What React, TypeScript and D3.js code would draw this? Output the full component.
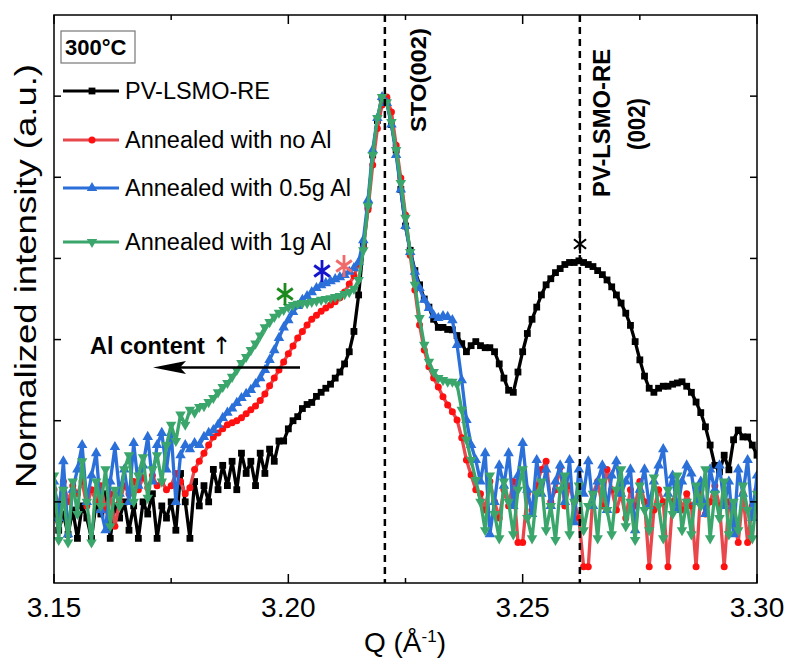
import * as d3 from "d3";
import React from "react";

// Q grid (Å^-1), one sample every 0.001
const qValues = d3.range(151).map((i) => +(3.15 + i * 0.001).toFixed(3));

const pvLsmoRe = [
  -0.01, -0.07, -0.03, -0.08, -0.02, -0.09, -0.01, -0.04, -0.09, 0.0,
  -0.03, 0.02, -0.09, -0.01, -0.04, 0.0, -0.07, -0.01, -0.09, 0.0,
  -0.03, 0.02, -0.09, -0.01, -0.04, 0.0, -0.07, 0.07, 0.0, -0.09,
  0.05, -0.01, 0.04, 0.0, 0.08, 0.03, 0.09, 0.04, 0.1, 0.03,
  0.12, 0.07, 0.1, 0.04, 0.12, 0.07, 0.13, 0.1, 0.15, 0.15,
  0.18, 0.2, 0.21, 0.23, 0.24, 0.245, 0.26, 0.27, 0.28, 0.29,
  0.305, 0.32, 0.34, 0.37, 0.42, 0.51, 0.63, 0.73, 0.855, 0.94,
  0.995, 0.99, 0.93, 0.867, 0.77, 0.68, 0.62, 0.57, 0.535, 0.5,
  0.48, 0.45, 0.43, 0.43, 0.425, 0.424, 0.41, 0.39, 0.37, 0.385,
  0.395, 0.385, 0.38, 0.38, 0.37, 0.34, 0.305, 0.275, 0.27, 0.32,
  0.37, 0.415, 0.45, 0.48, 0.51, 0.535, 0.55, 0.565, 0.575, 0.585,
  0.59, 0.59, 0.594, 0.59, 0.585, 0.58, 0.57, 0.56, 0.547, 0.53,
  0.51, 0.49, 0.465, 0.435, 0.395, 0.35, 0.31, 0.28, 0.27, 0.28,
  0.285, 0.285, 0.29, 0.293, 0.296, 0.285, 0.27, 0.246, 0.22, 0.185,
  0.14, 0.09, 0.074, 0.115, 0.079, 0.153, 0.177, 0.16, 0.16, 0.14, 0.115,
];

const noAl = [
  0.03, -0.01, 0.05, 0.0, 0.04, 0.02, 0.05, -0.01, 0.03, 0.0,
  0.04, -0.02, 0.02, -0.06, 0.0, 0.04, 0.02, 0.05, 0.03, 0.06,
  0.035, 0.065, 0.04, 0.05, 0.03, 0.04, 0.07, 0.05, 0.02, 0.035,
  0.08, 0.1, 0.12, 0.14, 0.16, 0.17, 0.18, 0.19, 0.195, 0.2,
  0.207, 0.217, 0.227, 0.236, 0.25, 0.266, 0.286, 0.305, 0.325, 0.345,
  0.365, 0.384, 0.404, 0.42, 0.436, 0.45, 0.46, 0.47, 0.478, 0.485,
  0.493, 0.503, 0.517, 0.537, 0.557, 0.586, 0.625, 0.72, 0.83, 0.92,
  0.978, 0.998, 0.961, 0.879, 0.798, 0.707, 0.608, 0.522, 0.436, 0.374,
  0.333, 0.305, 0.283, 0.259, 0.239, 0.222, 0.202, 0.158, 0.103, 0.066,
  0.03,
  0.02, -0.02, 0.05, 0.0, -0.04, 0.03, -0.01, 0.05, -0.1, -0.1,
  0.02, -0.02, 0.04, 0.08, 0.1, 0.0, 0.03, 0.085, -0.01, 0.04,
  0.0, -0.04, -0.16, -0.16, 0.02, 0.05, -0.01, 0.08, 0.03, -0.02,
  0.02, -0.04, 0.03, -0.01, 0.05, 0.0, -0.16, -0.02, 0.03, 0.0,
  -0.16, 0.0, 0.04, -0.02, 0.02, -0.01, -0.16, 0.03, -0.03, 0.0,
  0.04, -0.01, -0.16, 0.0, -0.04, -0.1, 0.02, -0.1, -0.01, 0.03,
];

const al05g = [
  0.05, -0.04, 0.1, -0.08, 0.03, 0.08, 0.14, 0.0, 0.065, 0.12,
  -0.02, -0.07, 0.05, 0.135, 0.02, 0.08, 0.0, 0.145, 0.04, 0.09,
  0.16, 0.05, 0.14, 0.17, 0.08, 0.17, 0.0, 0.115, 0.14, 0.13,
  0.145, 0.14, 0.16, 0.17, 0.177, 0.19, 0.207, 0.22, 0.23, 0.244,
  0.256, 0.266, 0.276, 0.29, 0.305, 0.325, 0.35, 0.374, 0.404, 0.43,
  0.448, 0.468, 0.483, 0.498, 0.507, 0.517, 0.527, 0.534, 0.539, 0.544,
  0.549, 0.554, 0.559, 0.567, 0.576, 0.591, 0.645, 0.744, 0.867, 0.946,
  0.998, 0.983, 0.93, 0.855, 0.77, 0.68, 0.616, 0.567, 0.527, 0.498,
  0.478, 0.46, 0.453, 0.458, 0.456, 0.448, 0.387, 0.3, 0.202, 0.14, 0.103,
  0.05, 0.12, -0.08, 0.0, 0.09, 0.04, 0.12, -0.01, 0.065, 0.145,
  0.03, -0.03, 0.103, 0.02, 0.08, -0.01, 0.05, 0.09, 0.0, 0.103,
  -0.05, 0.08, 0.02, 0.1, -0.01, 0.05, 0.09, -0.02, 0.065, 0.1,
  0.02, 0.05, 0.08, -0.07, 0.03, 0.08, -0.01, 0.05, 0.09, 0.13,
  0.02, 0.065, -0.02, 0.05, 0.09, 0.07, 0.0, 0.05, -0.03, 0.08,
  0.03, 0.09, -0.01, 0.05, -0.08, 0.08, 0.02, 0.103, -0.04, 0.065,
];

const al1g = [
  0.065, -0.094, 0.03, -0.1, 0.05, -0.03, 0.1, 0.0, -0.1, 0.05,
  -0.01, 0.08, -0.06, 0.03, -0.01, 0.08, 0.115, 0.0, 0.065, 0.11,
  0.01, 0.08, 0.115, 0.05, 0.14, 0.19, 0.15, 0.215, 0.19, 0.227,
  0.22, 0.234, 0.236, 0.246, 0.256, 0.27, 0.283, 0.293, 0.308, 0.325,
  0.342, 0.357, 0.374, 0.39, 0.41, 0.43, 0.443, 0.456, 0.466, 0.473,
  0.48, 0.485, 0.488, 0.49, 0.49, 0.493, 0.495, 0.498, 0.5, 0.502,
  0.505, 0.507, 0.512, 0.517, 0.525, 0.547, 0.62, 0.73, 0.855, 0.946,
  0.998, 0.985, 0.936, 0.867, 0.786, 0.7, 0.616, 0.535, 0.453, 0.387,
  0.345, 0.32, 0.305, 0.3, 0.296, 0.296, 0.29, 0.227, 0.153, 0.103, 0.054,
  0.0, -0.07, 0.065, -0.03, -0.09, 0.05, 0.0, -0.08, 0.03, 0.08,
  -0.04, -0.09, 0.02, 0.05, -0.07, -0.01, -0.094, 0.03, 0.065, -0.08,
  0.0, 0.04, -0.07, -0.01, 0.02, -0.09, 0.05, -0.02, -0.08, 0.03,
  0.08, -0.06, 0.0, -0.094, 0.04, -0.02, -0.07, 0.06, -0.01, -0.09,
  0.03, -0.03, 0.065, -0.07, 0.0, -0.08, 0.04, -0.01, 0.08, -0.09,
  0.02, -0.04, 0.05, -0.08, 0.0, -0.07, 0.04, -0.02, -0.09, 0.02,
];

const seriesNames = ["PV-LSMO-RE", "Annealed with no Al", "Annealed with 0.5g Al", "Annealed with 1g Al"];
const seriesValues = [pvLsmoRe, noAl, al05g, al1g];
const lineColors = ["#000000", "#e8474c", "#2b6fd9", "#3ba66b"];
const markerColors = ["#000000", "#ff1010", "#2b6fd9", "#3ba66b"];
const markerKinds = ["square", "circle", "up", "down"];

const majorTicks = [3.15, 3.2, 3.25, 3.3];
const minorTicks = [3.175, 3.225, 3.275];
const peakLines = [3.2206, 3.2622];

const W = 788;
const H = 661;
const left = 54, right = 757, top = 15, bottom = 583;

const x = d3.scaleLinear().domain([3.15, 3.3]).range([left, right]);
const y = d3.scaleLinear().domain([-0.2, 1.2]).range([bottom, top]);

const font = "'Liberation Sans', Arial, sans-serif";

const Marker = ({ kind, cx, cy, color }: any) => {
  if (kind === "square") return <rect x={cx - 3.4} y={cy - 3.4} width={6.8} height={6.8} fill={color} />;
  if (kind === "circle") return <circle cx={cx} cy={cy} r={3.5} fill={color} />;
  const p = d3.symbol().type(d3.symbolTriangle).size(48)();
  return <path d={p || ""} transform={`translate(${cx},${cy}) rotate(${kind === "down" ? 180 : 0})`} fill={color} />;
};

const asterisk = (cx: number, cy: number, rx: number, ry: number) =>
  [90, 30, 150]
    .map((a) => {
      const r = (a * Math.PI) / 180;
      const dx = rx * Math.cos(r), dy = ry * Math.sin(r);
      return `M${cx - dx},${cy - dy}L${cx + dx},${cy + dy}`;
    })
    .join("");

export default function App() {
  const line = d3.line<number>().x((_, i) => x(qValues[i])).y((d) => y(d));
  const yTicks = y.ticks(7).filter((t) => t > -0.19 && t < 1.19);

  return (
    <svg width={W} height={H} style={{ position: "absolute", left: 0, top: 0, background: "#fff" }}>
      <defs>
        <clipPath id="plot">
          <rect x={left} y={top} width={right - left} height={bottom - top} />
        </clipPath>
      </defs>

      <g clipPath="url(#plot)">
        {seriesValues.map((vals, s) => (
          <g key={s}>
            <path d={line(vals) || ""} fill="none" stroke={lineColors[s]} strokeWidth={3.3} strokeLinejoin="round" />
            {vals.map((v, i) => (
              <Marker key={i} kind={markerKinds[s]} cx={x(qValues[i])} cy={y(v)} color={markerColors[s]} />
            ))}
          </g>
        ))}
      </g>

      {peakLines.map((q) => (
        <line key={q} x1={x(q)} x2={x(q)} y1={top} y2={bottom} stroke="#000" strokeWidth={2.5} strokeDasharray="7,5" />
      ))}

      <rect x={left} y={top} width={right - left} height={bottom - top} fill="none" stroke="#000" strokeWidth={1.5} />

      {majorTicks.map((t) => (
        <g key={t}>
          <line x1={x(t)} x2={x(t)} y1={bottom} y2={bottom - 9} stroke="#000" strokeWidth={1.5} />
          <line x1={x(t)} x2={x(t)} y1={top} y2={top + 9} stroke="#000" strokeWidth={1.5} />
          <text x={x(t)} y={617} textAnchor="middle" fontFamily={font} fontSize={28}>
            {t.toFixed(2)}
          </text>
        </g>
      ))}
      {minorTicks.map((t) => (
        <g key={t}>
          <line x1={x(t)} x2={x(t)} y1={bottom} y2={bottom - 5} stroke="#000" strokeWidth={1.5} />
          <line x1={x(t)} x2={x(t)} y1={top} y2={top + 5} stroke="#000" strokeWidth={1.5} />
        </g>
      ))}
      {yTicks.map((t) => (
        <g key={t}>
          <line x1={left} x2={left + 7} y1={y(t)} y2={y(t)} stroke="#000" strokeWidth={1.5} />
          <line x1={right} x2={right - 7} y1={y(t)} y2={y(t)} stroke="#000" strokeWidth={1.5} />
        </g>
      ))}

      <text x={405} y={652} textAnchor="middle" fontFamily={font} fontSize={28}>
        Q (Å<tspan dy={-10} fontSize={17}>-1</tspan><tspan dy={10}>)</tspan>
      </text>
      <text
        transform="translate(36,276) rotate(-90)"
        textAnchor="middle"
        fontFamily={font}
        fontSize={30}
        textLength={424}
        lengthAdjust="spacingAndGlyphs"
      >
        Normalized intensity (a.u.)
      </text>

      <text transform="translate(426,80) rotate(-90)" textAnchor="middle" fontFamily={font} fontSize={22} fontWeight="bold" textLength={104} lengthAdjust="spacingAndGlyphs">
        STO(002)
      </text>
      <text transform="translate(610,123) rotate(-90)" textAnchor="middle" fontFamily={font} fontSize={23} fontWeight="bold" textLength={148} lengthAdjust="spacingAndGlyphs">
        PV-LSMO-RE
      </text>
      <text transform="translate(645,124) rotate(-90)" textAnchor="middle" fontFamily={font} fontSize={23} fontWeight="bold" textLength={52} lengthAdjust="spacingAndGlyphs">
        (002)
      </text>

      <rect x={61} y={31} width={74} height={32} fill="#fff" stroke="#777" strokeWidth={1.2} />
      <text x={65} y={55} fontFamily={font} fontSize={22} fontWeight="bold">300°C</text>

      {seriesNames.map((name, s) => {
        const ly = [91, 140, 188, 242][s];
        return (
          <g key={name}>
            <line x1={63} x2={119} y1={ly} y2={ly} stroke={lineColors[s]} strokeWidth={2.8} />
            <Marker kind={markerKinds[s]} cx={92} cy={ly} color={markerColors[s]} />
            <text x={125} y={ly + 8} fontFamily={font} fontSize={23.5}>{name}</text>
          </g>
        );
      })}

      <text x={90} y={354} fontFamily={font} fontSize={23.5} fontWeight="bold">
        Al content <tspan fontFamily="'DejaVu Sans', sans-serif" fontWeight="normal" fontSize={24}>↑</tspan>
      </text>
      <line x1={300} x2={178} y1={367.5} y2={367.5} stroke="#000" strokeWidth={2.5} />
      <path d="M153,367.5L186,361L180,367.5L186,374Z" fill="#000" />

      <path d={asterisk(322, 271, 9, 11)} stroke="#1414cc" strokeWidth={2.8} />
      <path d={asterisk(344, 266, 9, 11)} stroke="#f06a6a" strokeWidth={2.8} />
      <path d={asterisk(285, 294, 9, 11)} stroke="#1c8a1c" strokeWidth={2.8} />
      <path d={asterisk(580, 244, 7, 9.5)} stroke="#000" strokeWidth={2.2} />
    </svg>
  );
}
